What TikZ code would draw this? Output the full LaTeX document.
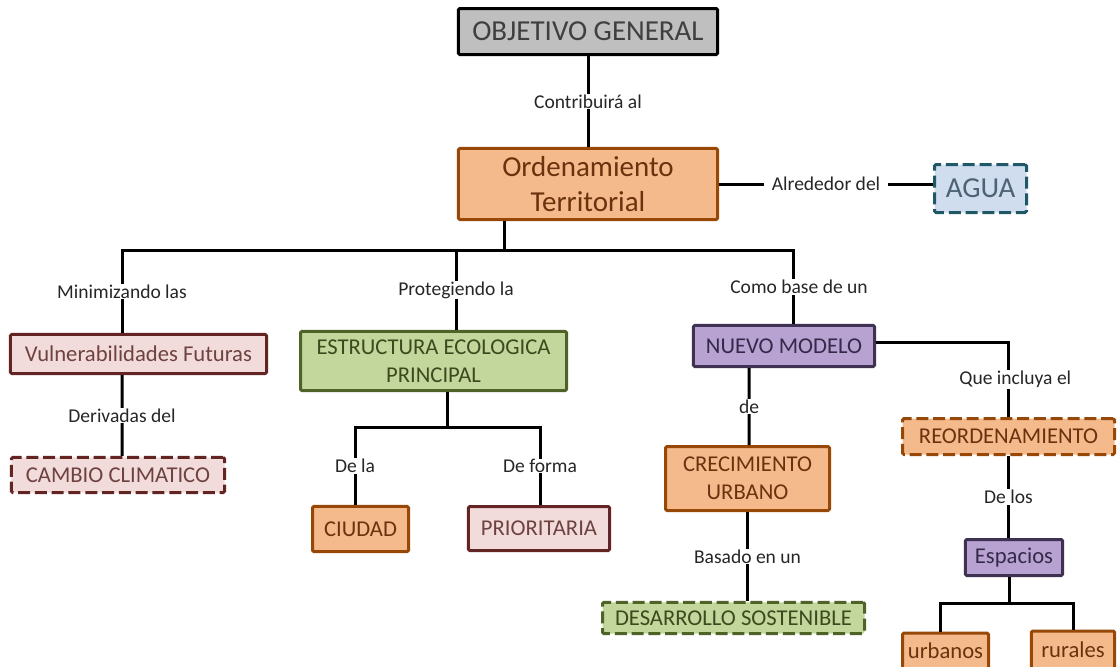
\documentclass[tikz,border=0pt]{standalone}
\usepackage{fontspec}
\setmainfont{Carlito}
\definecolor{greyfill}{HTML}{BFBFBF}
\definecolor{greytext}{HTML}{3F3F3F}
\definecolor{peachfill}{HTML}{F5BA8C}
\definecolor{peachline}{HTML}{974806}
\definecolor{peachtext}{HTML}{6A320D}
\definecolor{pinkfill}{HTML}{F2DCDB}
\definecolor{pinkline}{HTML}{632523}
\definecolor{pinktext}{HTML}{6E4240}
\definecolor{greenfill}{HTML}{C3D69B}
\definecolor{greenline}{HTML}{4F6228}
\definecolor{greentext}{HTML}{3C4A1E}
\definecolor{purplefill}{HTML}{B7A2D1}
\definecolor{purpleline}{HTML}{3F3151}
\definecolor{purpletext}{HTML}{35294A}
\definecolor{bluefill}{HTML}{D0DDEE}
\definecolor{blueline}{HTML}{215868}
\definecolor{bluetext}{HTML}{4D6275}
\definecolor{labeltext}{HTML}{262626}
\begin{document}
\begin{tikzpicture}[
  box/.style={rectangle, draw, line width=0.075cm, rounded corners=1pt, inner sep=2pt, align=center, font=\fontsize{16.1}{20}\selectfont},
  bigbox/.style={box, font=\fontsize{20.6}{24.9}\selectfont},
  broken/.style={dash pattern=on 0.3cm off 0.12cm},
  greybox/.style={fill=greyfill, draw=black, text=greytext},
  peachbox/.style={fill=peachfill, draw=peachline, text=peachtext},
  pinkbox/.style={fill=pinkfill, draw=pinkline, text=pinktext},
  greenbox/.style={fill=greenfill, draw=greenline, text=greentext},
  purplebox/.style={fill=purplefill, draw=purpleline, text=purpletext},
  bluebox/.style={fill=bluefill, draw=blueline, text=bluetext},
  link/.style={line width=0.075cm},
  lbl/.style={fill=white, text=labeltext, inner xsep=0.2cm, inner ysep=0.5pt, font=\fontsize{13.9}{16}\selectfont},
  node distance=3cm
]
\useasboundingbox (0,0) rectangle (27.925,-16.65);
\clip (0,0) rectangle (27.925,-16.65);

% Top levels
\node[bigbox, greybox, minimum width=6.48cm, minimum height=1.15cm] (obj) at (14.7,-0.7875) {OBJETIVO GENERAL};
\node[bigbox, peachbox, below of=obj, node distance=3.8125cm, minimum width=6.48cm, minimum height=1.78cm] (ord) {Ordenamiento\\Territorial};
\node[bigbox, bluebox, broken, right of=ord, node distance=9.8125cm, yshift=-0.1125cm, minimum width=2.3cm, minimum height=1.2cm] (agua) {AGUA};

% Second level
\node[box, pinkbox, below of=ord, node distance=4.25cm, xshift=-11.2375cm, minimum width=6.4cm, minimum height=0.98cm] (vuln) {Vulnerabilidades Futuras};
\node[box, greenbox, below of=ord, node distance=4.425cm, xshift=-3.8625cm, minimum width=6.65cm, minimum height=1.48cm] (eep) {ESTRUCTURA ECOLOGICA\\PRINCIPAL};
\node[box, purplebox, below of=ord, node distance=4.05cm, xshift=4.9cm, minimum width=4.53cm, minimum height=1.03cm] (nuevo) {NUEVO MODELO};

% Third level
\node[box, pinkbox, broken, below of=vuln, node distance=3.025cm, xshift=-0.5125cm, minimum width=5.33cm, minimum height=0.88cm] (cambio) {CAMBIO CLIMATICO};
\node[box, peachbox, below of=eep, node distance=4.2cm, xshift=-1.825cm, minimum width=2.4cm, minimum height=1.13cm] (ciudad) {CIUDAD};
\node[box, pinkbox, below of=eep, node distance=4.1875cm, xshift=2.6375cm, minimum width=3.53cm, minimum height=1.1cm] (prior) {PRIORITARIA};
\node[box, peachbox, below of=nuevo, node distance=3.3125cm, xshift=-0.9125cm, minimum width=4.1cm, minimum height=1.6cm] (crec) {CRECIMIENTO\\URBANO};
\node[box, greenbox, broken, below of=crec, node distance=3.4875cm, xshift=-0.35cm, minimum width=6.55cm, minimum height=0.78cm] (desarr) {DESARROLLO SOSTENIBLE};
\node[box, peachbox, broken, below of=nuevo, node distance=2.2625cm, xshift=5.6125cm, minimum width=5.3cm, minimum height=0.9cm] (reord) {REORDENAMIENTO};
\node[box, purplebox, below of=reord, node distance=3.025cm, xshift=0.1375cm, minimum width=2.43cm, minimum height=0.9cm] (espacios) {Espacios};
\node[box, peachbox, below of=espacios, node distance=2.3375cm, xshift=-1.7125cm, minimum width=2.15cm, minimum height=0.9cm] (urbanos) {urbanos};
\node[box, peachbox, below of=espacios, node distance=2.3125cm, xshift=1.475cm, minimum width=2.08cm, minimum height=0.95cm] (rurales) {rurales};

% Links from the top
\draw[link] (obj) -- node[lbl] {Contribuirá al} (ord);
\draw[link] (ord.east) -- node[lbl] {Alrededor del} (ord.east -| agua.west);

% Main branching
\coordinate (hubA) at ([xshift=-2.1cm, yshift=-0.7225cm]ord.south);
\draw[link] ([xshift=-2.1cm]ord.south) -- (hubA);
\draw[link] (hubA) -| node[lbl, pos=0.75] {Minimizando las} ([xshift=-0.4125cm]vuln.north);
\draw[link] (hubA) -| node[lbl, pos=0.75] {Protegiendo la} ([xshift=0.5625cm]eep.north);
\draw[link] (hubA) -| node[lbl, pos=0.75, xshift=0.15cm] {Como base de un} ([xshift=0.225cm]nuevo.north);

\draw[link] ([xshift=-0.4125cm]vuln.south) -- node[lbl] {Derivadas del} ([xshift=0.1cm]cambio.north);

% Ecological structure
\coordinate (hubB) at ([xshift=0.3375cm, yshift=-0.8725cm]eep.south);
\draw[link] ([xshift=0.3375cm]eep.south) -- (hubB);
\draw[link] (hubB) -| node[lbl, pos=0.75] {De la} ([xshift=-0.1375cm]ciudad.north);
\draw[link] (hubB) -| node[lbl, pos=0.75] {De forma} ([xshift=0.025cm]prior.north);

% New model
\draw[link] ([xshift=-0.875cm]nuevo.south) -- node[lbl] {de} ([xshift=0.0375cm]crec.north);
\draw[link] ([yshift=0.1cm]nuevo.east) -| node[lbl, pos=0.75, xshift=0.17cm] {Que incluya el} (reord.north);
\draw[link] (crec.south) -- node[lbl] {Basado en un} (crec.south |- desarr.north);
\draw[link] (reord.south) -- node[lbl] {De los} (reord.south |- espacios.north);

% Spaces
\coordinate (hubC) at ([xshift=-0.125cm, yshift=-0.65cm]espacios.south);
\draw[link] ([xshift=-0.125cm]espacios.south) -- (hubC);
\draw[link] (hubC) -| ([xshift=-0.1375cm]urbanos.north);
\draw[link] (hubC) -| (rurales.north);

\end{tikzpicture}
\end{document}
